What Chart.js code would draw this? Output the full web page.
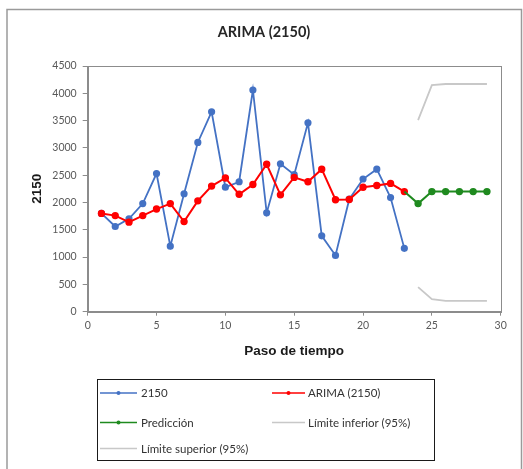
<!DOCTYPE html>
<html>
<head>
<meta charset="utf-8">
<script src="https://cdn.jsdelivr.net/npm/chart.js@4"></script>
<style>
  html, body { margin: 0; padding: 0; background: #fff; }
  #wrap { position: relative; width: 523px; height: 469px; }
</style>
</head>
<body>
<div id="wrap"><canvas id="c" width="523" height="469"></canvas></div>
<script>
// Time steps and observed series
const steps = [1,2,3,4,5,6,7,8,9,10,11,12,13,14,15,16,17,18,19,20,21,22,23];
const series2150 = [1800,1560,1700,1980,2530,1200,2160,3100,3660,2280,2380,4060,1810,2710,2510,3460,1390,1030,2060,2430,2610,2090,1160];
const arima2150 = [1800,1760,1640,1760,1880,1980,1650,2030,2300,2450,2150,2330,2700,2140,2460,2380,2610,2050,2055,2280,2310,2350,2200];

// Forecast horizon
const predSteps = [23,24,25,26,27,28,29];
const prediction = [2200,1980,2200,2200,2200,2200,2200];
const limitSteps = [24,25,26,27,28,29];
const lowerLimit = [450,230,200,200,200,200];
const upperLimit = [3510,4150,4170,4170,4170,4170];

// Axis ticks
const xTicks = [0,5,10,15,20,25,30];
const yTicks = [0,500,1000,1500,2000,2500,3000,3500,4000,4500];

const chartTitle = 'ARIMA (2150)';
const xTitle = 'Paso de tiempo';
const yTitle = '2150';

const BLUE = '#4472C4', RED = '#FF0000', GREEN = '#1F8A1F', GREY = '#C8C8C8';
const AXIS = '#8C8C8C', TICKTXT = '#595959';

const pts = (xs, ys) => xs.map((x, i) => ({ x: x, y: ys[i] }));

const datasets = [
  { label: '2150', data: pts(steps, series2150), borderColor: BLUE, backgroundColor: BLUE,
    borderWidth: 1.8, pointRadius: 2.7, pointHoverRadius: 2.7, order: 5, marker: true },
  { label: 'ARIMA (2150)', data: pts(steps, arima2150), borderColor: RED, backgroundColor: RED,
    borderWidth: 2, pointRadius: 2.7, pointHoverRadius: 2.7, order: 4, marker: true },
  { label: 'Predicción', data: pts(predSteps, prediction), borderColor: GREEN, backgroundColor: GREEN,
    borderWidth: 2, pointRadius: predSteps.map((s, i) => i === 0 ? 0 : 2.7), order: 3, marker: true },
  { label: 'Límite inferior (95%)', data: pts(limitSteps, lowerLimit), borderColor: GREY,
    borderWidth: 1.8, pointRadius: 0, order: 2, marker: false },
  { label: 'Límite superior (95%)', data: pts(limitSteps, upperLimit), borderColor: GREY,
    borderWidth: 1.8, pointRadius: 0, order: 1, marker: false }
];

// Outer frame, plot border, title and boxed two-column legend
const decor = {
  id: 'decor',
  beforeDatasetsDraw(chart) {
    const { ctx, chartArea: a } = chart;
    ctx.save();
    ctx.strokeStyle = AXIS;
    ctx.lineWidth = 1;
    ctx.strokeRect(Math.round(a.left) + 0.5, Math.round(a.top) + 0.5,
                   Math.round(a.right - a.left), Math.round(a.bottom - a.top));
    ctx.restore();
  },
  afterDraw(chart) {
    const ctx = chart.ctx;
    ctx.save();
    // frame
    ctx.strokeStyle = '#9A9A9A';
    ctx.lineWidth = 1.5;
    ctx.beginPath();
    ctx.moveTo(7, 475); ctx.lineTo(7, 9.5); ctx.lineTo(521.5, 9.5); ctx.lineTo(521.5, 475);
    ctx.stroke();
    // title
    ctx.fillStyle = '#262626';
    ctx.font = 'bold 14.5px Lato';
    ctx.textAlign = 'center';
    ctx.textBaseline = 'middle';
    ctx.fillText(chartTitle, 264, 32);
    // legend box
    ctx.strokeStyle = '#1A1A1A';
    ctx.lineWidth = 1;
    ctx.strokeRect(97.5, 379.5, 337, 81);
    const cols = [{ x0: 100, x1: 137, tx: 141 }, { x0: 272, x1: 305, tx: 308 }];
    const rows = [393, 422.5, 448.5];
    ctx.font = '11.5px Lato';
    ctx.textAlign = 'left';
    chart.data.datasets.forEach((ds, i) => {
      const c = cols[i % 2], y = rows[Math.floor(i / 2)];
      ctx.strokeStyle = ds.borderColor;
      ctx.lineWidth = 1.5;
      ctx.beginPath(); ctx.moveTo(c.x0, y); ctx.lineTo(c.x1, y); ctx.stroke();
      if (ds.marker) {
        ctx.fillStyle = ds.borderColor;
        ctx.beginPath(); ctx.arc((c.x0 + c.x1) / 2, y, 2, 0, Math.PI * 2); ctx.fill();
      }
      ctx.fillStyle = '#333333';
      ctx.fillText(ds.label, c.tx, y + 0.5);
    });
    ctx.restore();
  }
};

new Chart(document.getElementById('c'), {
  type: 'line',
  data: { datasets: datasets },
  plugins: [decor],
  options: {
    responsive: false,
    animation: false,
    events: [],
    layout: { padding: { left: 7, top: 66, right: 22.3, bottom: 107.3 } },
    plugins: { legend: { display: false }, title: { display: false }, tooltip: { enabled: false } },
    elements: { line: { tension: 0 } },
    scales: {
      x: {
        type: 'linear', min: 0, max: 30,
        afterBuildTicks(s) { s.ticks = xTicks.map(v => ({ value: v })); },
        afterFit(s) { s.height = 50; },
        ticks: { color: TICKTXT, font: { family: 'Lato', size: 10.5 }, padding: 4, maxRotation: 0,
                 callback: v => String(v) },
        grid: { drawOnChartArea: false, drawTicks: true, tickLength: 4, color: AXIS },
        border: { color: AXIS },
        title: { display: true, text: xTitle, color: '#1A1A1A',
                 font: { family: 'Liberation Sans', size: 13.5, weight: 'bold' },
                 padding: { top: 0, bottom: 2.5 } }
      },
      y: {
        min: 0, max: 4500,
        afterBuildTicks(s) { s.ticks = yTicks.map(v => ({ value: v })); },
        afterFit(s) { s.width = 80.7; },
        ticks: { color: TICKTXT, font: { family: 'Lato', size: 10.5 }, padding: 6,
                 callback: v => String(v) },
        grid: { drawOnChartArea: false, drawTicks: true, tickLength: 5, color: AXIS },
        border: { color: AXIS },
        title: { display: true, text: yTitle, color: '#1A1A1A',
                 font: { family: 'Liberation Sans', size: 13.5, weight: 'bold' },
                 padding: { top: 22, bottom: 0 } }
      }
    }
  }
});
</script>
</body>
</html>
